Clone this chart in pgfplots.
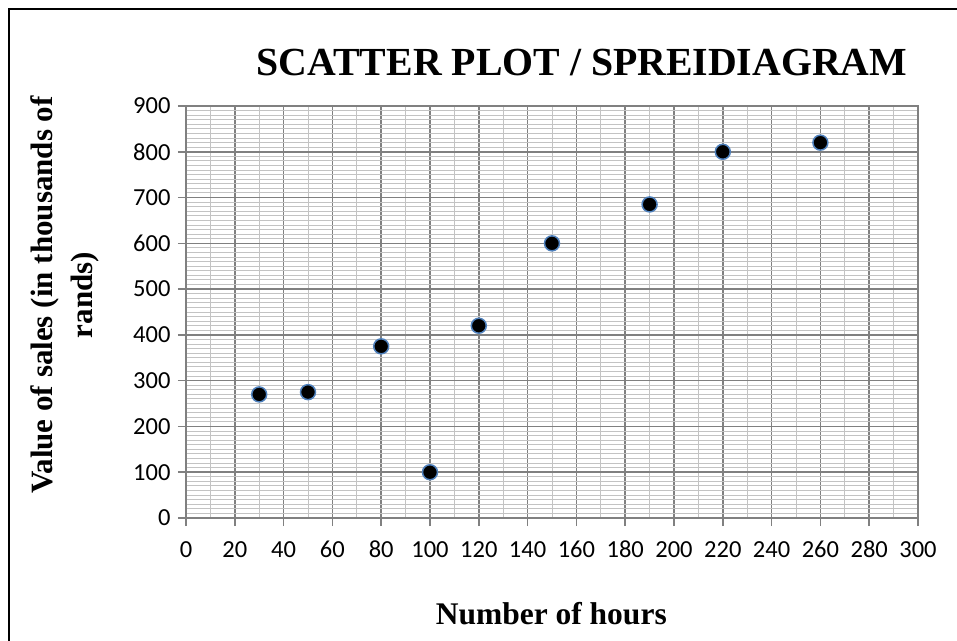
\documentclass[border=0pt]{standalone}
\usepackage{fontspec}
\setmainfont{Liberation Serif}
\newfontfamily\calibri{Carlito}
\usepackage{pgfplots}
\pgfplotsset{compat=1.18}
\definecolor{majgrid}{RGB}{128,128,128}
\definecolor{mingrid}{RGB}{195,195,195}
\definecolor{edgeblue}{RGB}{79,129,189}
\begin{document}
\begin{tikzpicture}[x=1pt,y=1pt]
\path[use as bounding box] (0,0) rectangle (957,640);
\draw[black, line width=1.6pt] (9,-20) rectangle (980,631);
\begin{axis}[
  at={(186pt,122pt)}, anchor=south west,
  scale only axis, width=732pt, height=412pt,
  xmin=0, xmax=300, ymin=0, ymax=900,
  xtick={0,20,...,300}, ytick={0,100,...,900},
  minor x tick num=1, minor y tick num=9,
  grid=both,
  major grid style={majgrid, line width=1.6pt},
  minor grid style={mingrid, line width=1pt},
  axis line style={majgrid, line width=1.6pt},
  tick style={majgrid, line width=1.6pt},
  tick align=outside, major tick length=8pt, minor tick length=0pt,
  xtick pos=bottom, ytick pos=left,
  /pgf/number format/assume math mode=true,
  ticklabel style={font=\calibri\fontsize{24.5}{24.5}\selectfont, text=black},
  xticklabel style={yshift=-12pt, text height=16pt, text depth=0pt},
  yticklabel style={xshift=-4pt},
  title={SCATTER PLOT / SPREIDIAGRAM},
  title style={at={(axis description cs:0.541,1.092)}, anchor=center,
    font=\bfseries\fontsize{39.8}{44}\selectfont},
  xlabel={Number of hours},
  xlabel style={at={(axis description cs:0.499,-0.231)}, anchor=center,
    font=\bfseries\fontsize{31.5}{36}\selectfont},
  ylabel={Value of sales (in thousands of\\rands)},
  ylabel style={at={(axis description cs:-0.165,0.541)}, anchor=center,
    align=center, font=\bfseries\fontsize{31}{40}\selectfont},
]
\addplot[only marks, mark=*, mark size=7.5pt,
  mark options={fill=black, draw=edgeblue, line width=1.5pt}]
  coordinates {
  (30,270) (50,275) (80,375) (100,100) (120,420)
  (150,600) (190,685) (220,800) (260,820)
};
\end{axis}
\end{tikzpicture}
\end{document}
